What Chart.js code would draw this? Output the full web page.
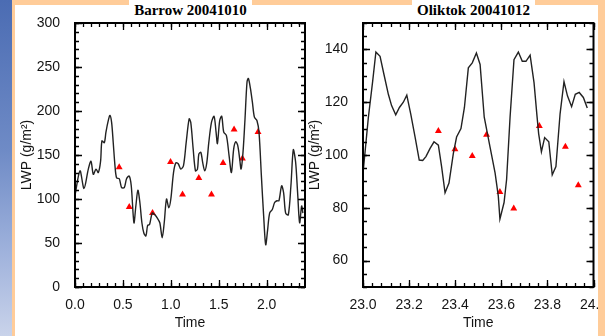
<!DOCTYPE html>
<html>
<head>
<meta charset="utf-8">
<script src="https://cdn.jsdelivr.net/npm/chart.js@4/dist/chart.umd.min.js"></script>
<style>
  html, body { margin: 0; padding: 0; }
  body { width: 605px; height: 336px; position: relative; overflow: hidden; background: #ffcc99; }
  #blue { position: absolute; left: 0; top: 0; width: 12px; height: 336px;
          background: linear-gradient(#4b6cb3, #6f8bc6 45%, #9fb2dc 75%, #c9d3ea); }
  #paper { position: absolute; left: 15px; top: 5px; width: 583px; height: 331px; background: #fff; }
  .ttl { position: absolute; top: 0; width: 123px; height: 20px; background: #fff; color: #000;
         font: bold 15px "Liberation Serif", "Times New Roman", serif; text-align: center; line-height: 21px; }
  canvas { position: absolute; top: 0; }
  #edge { position: absolute; left: 598px; top: 0; width: 7px; height: 336px; background: #ffcc99; }
</style>
</head>
<body>
<div id="blue"></div>
<div id="paper"></div>
<canvas id="barrow" width="310" height="336" style="left:0"></canvas>
<canvas id="oliktok" width="305" height="336" style="left:300px"></canvas>
<div class="ttl" style="left:129px">Barrow 20041010</div>
<div class="ttl" style="left:412px">Oliktok 20041012</div>
<div id="edge"></div>
<script>
// Barrow 20041010 - linha (modelo) e triangulos (observado)
const barrowTime = [0, 0.052, 0.094, 0.139, 0.167, 0.191, 0.219, 0.243, 0.267, 0.281, 0.306, 0.323, 0.347, 0.365,
  0.382, 0.399, 0.417, 0.434, 0.462, 0.486, 0.514, 0.538, 0.566, 0.587, 0.615, 0.635, 0.656, 0.677, 0.698, 0.719,
  0.740, 0.758, 0.778, 0.806, 0.833, 0.861, 0.885, 0.910, 0.931, 0.955, 0.979, 1.000, 1.028, 1.052, 1.077, 1.104,
  1.132, 1.160, 1.191, 1.208, 1.233, 1.257, 1.278, 1.292, 1.313, 1.333, 1.354, 1.375, 1.396, 1.424, 1.451, 1.472,
  1.486, 1.510, 1.531, 1.552, 1.580, 1.608, 1.632, 1.656, 1.677, 1.698, 1.719, 1.733, 1.753, 1.774, 1.795, 1.809,
  1.830, 1.851, 1.872, 1.899, 1.920, 1.945, 1.969, 1.990, 2.010, 2.031, 2.059, 2.083, 2.107, 2.128, 2.156, 2.177,
  2.198, 2.226, 2.253, 2.278, 2.302, 2.323, 2.344, 2.365, 2.378];
const barrowLwp = [104, 132, 112, 134, 143, 128, 134, 130, 143, 166, 164, 176, 189, 195,
  187, 164, 138, 124, 123, 113, 113, 123, 126, 115, 73, 92, 110, 96, 73, 61,
  58, 70, 71, 84, 82, 78, 73, 56, 73, 100, 90, 100, 130, 141, 140, 134,
  138, 164, 191, 187, 157, 132, 134, 151, 153, 141, 132, 141, 164, 187, 194, 176,
  163, 189, 194, 176, 172, 149, 130, 157, 165, 161, 145, 134, 153, 191, 233, 237,
  226, 210, 193, 189, 176, 126, 80, 48, 65, 84, 88, 96, 98, 98, 115, 107,
  84, 82, 115, 156, 142, 107, 73, 92, 84];
const barrowObsTime = [0.461, 0.566, 0.809, 0.997, 1.122, 1.292, 1.424, 1.545, 1.660, 1.747, 1.910];
const barrowObsLwp = [136, 91, 84, 142, 105, 124, 105, 141, 179, 146, 176];
const barrowXTicks = [0, 0.5, 1.0, 1.5, 2.0];
const barrowYTicks = [0, 50, 100, 150, 200, 250, 300];

// Oliktok 20041012
const oliktokTime = [23.000, 23.023, 23.042, 23.056, 23.074, 23.091, 23.110, 23.124, 23.142, 23.158, 23.175,
  23.190, 23.207, 23.226, 23.244, 23.259, 23.273, 23.291, 23.308, 23.327, 23.341, 23.356, 23.373, 23.392,
  23.406, 23.425, 23.440, 23.457, 23.474, 23.492, 23.508, 23.526, 23.551, 23.573, 23.587, 23.594, 23.612,
  23.623, 23.638, 23.655, 23.674, 23.691, 23.707, 23.725, 23.742, 23.754, 23.762, 23.774, 23.788, 23.806,
  23.821, 23.837, 23.855, 23.872, 23.887, 23.905, 23.921, 23.938, 23.956, 23.973];
const oliktokLwp = [93, 114, 128, 139, 137.4, 130.5, 123, 118.7, 115.2, 118, 120,
  122.7, 115.6, 106.8, 98.1, 97.9, 99.4, 102.5, 105, 103.7, 95.6, 85.7, 89.4, 100.6,
  106.8, 110, 118, 133, 134.9, 138.6, 134.3, 114.3, 103.1, 93.2, 84.4, 75.7, 82,
  90.7, 114.3, 136.1, 139, 135.5, 135.5, 137.8, 127.4, 115.6, 108.1, 101.2, 106.6, 105,
  92.5, 95.6, 115.6, 127.8, 122.4, 118.3, 123, 123.7, 121.8, 117.8];
const oliktokObsTime = [23.327, 23.399, 23.474, 23.536, 23.594, 23.654, 23.765, 23.878, 23.934];
const oliktokObsLwp = [109.1, 102.2, 99.6, 107.7, 86, 79.7, 111, 103.1, 88.5];
const oliktokXTicks = [23.0, 23.2, 23.4, 23.6, 23.8, 24.0];
const oliktokYTicks = [60, 80, 100, 120, 140];

const fonte = { family: '"Liberation Sans", Arial, sans-serif', size: 14 };
const corTexto = '#141414';

// moldura estilo IDL: caixa com ticks para dentro nos quatro lados
const idlFrame = {
  id: 'idlFrame',
  afterDraw(chart, args, o) {
    const ctx = chart.ctx;
    const a = chart.chartArea;
    const x = chart.scales.x, y = chart.scales.y;
    ctx.save();
    ctx.strokeStyle = '#000';
    ctx.lineWidth = 1.3;
    function marca(scale, step, len, horiz) {
      const n0 = Math.ceil(scale.min / step - 1e-6);
      const n1 = Math.floor(scale.max / step + 1e-6);
      for (let i = n0; i <= n1; i++) {
        const p = Math.round(scale.getPixelForValue(i * step)) + 0.5;
        ctx.beginPath();
        if (horiz) {
          ctx.moveTo(p, a.bottom); ctx.lineTo(p, a.bottom - len);
          ctx.moveTo(p, a.top); ctx.lineTo(p, a.top + len);
        } else {
          ctx.moveTo(a.left, p); ctx.lineTo(a.left + len, p);
          ctx.moveTo(a.right, p); ctx.lineTo(a.right - len, p);
        }
        ctx.stroke();
      }
    }
    marca(x, o.xMinor, 4, true);
    marca(x, o.xMajor, 7, true);
    marca(y, o.yMinor, 4, false);
    marca(y, o.yMajor, 7, false);
    ctx.lineWidth = 2;
    ctx.strokeRect(a.left, a.top, a.right - a.left, a.bottom - a.top);
    ctx.restore();
  }
};

function pontos(xs, ys) {
  return xs.map((v, i) => ({ x: v, y: ys[i] }));
}

function grafico(id, linhaX, linhaY, obsX, obsY, eixo, pad, tension) {
  return new Chart(document.getElementById(id), {
    type: 'line',
    data: {
      datasets: [{
        data: pontos(linhaX, linhaY),
        borderColor: '#222',
        borderWidth: 1.4,
        pointRadius: 0,
        tension: tension,
        fill: false
      }, {
        data: pontos(obsX, obsY),
        showLine: false,
        pointStyle: 'triangle',
        pointRadius: 4,
        pointBackgroundColor: '#ff0000',
        pointBorderColor: '#ff0000',
        pointBorderWidth: 0
      }]
    },
    options: {
      responsive: false,
      animation: false,
      layout: { padding: pad },
      plugins: {
        legend: { display: false },
        tooltip: { enabled: false },
        idlFrame: eixo.frame
      },
      scales: {
        x: {
          type: 'linear',
          min: eixo.xMin, max: eixo.xMax,
          grid: { display: false },
          border: { display: false },
          ticks: {
            autoSkip: false, maxRotation: 0, padding: 2, color: corTexto, font: fonte,
            callback: v => v.toFixed(1)
          },
          afterBuildTicks(s) { s.ticks = eixo.xTicks.map(v => ({ value: v })); },
          title: { display: true, text: 'Time', color: corTexto, font: fonte, padding: { top: 0, bottom: 4 } },
          afterFit(s) { s.height = 49; s.paddingLeft = 0; s.paddingRight = 0; }
        },
        y: {
          min: eixo.yMin, max: eixo.yMax,
          grid: { display: false },
          border: { display: false },
          ticks: { autoSkip: false, padding: 7, color: corTexto, font: fonte, callback: v => String(v) },
          afterBuildTicks(s) { s.ticks = eixo.yTicks.map(v => ({ value: v })); },
          title: { display: true, text: 'LWP (g/m²)', color: corTexto, font: fonte },
          afterFit(s) { s.width = 60; s.paddingTop = 0; s.paddingBottom = 0; }
        }
      }
    },
    plugins: [idlFrame]
  });
}

grafico('barrow', barrowTime, barrowLwp, barrowObsTime, barrowObsLwp,
  { xMin: 0, xMax: 2.4, yMin: 0, yMax: 300, xTicks: barrowXTicks, yTicks: barrowYTicks,
    frame: { xMajor: 0.5, xMinor: 0.5 / 6, yMajor: 50, yMinor: 10 } },
  { left: 15, top: 23, right: 5, bottom: 0 }, 0.3);

grafico('oliktok', oliktokTime, oliktokLwp, oliktokObsTime, oliktokObsLwp,
  { xMin: 23, xMax: 24, yMin: 50, yMax: 150, xTicks: oliktokXTicks, yTicks: oliktokYTicks,
    frame: { xMajor: 0.2, xMinor: 0.04, yMajor: 20, yMinor: 5 } },
  { left: 3, top: 23, right: 11.5, bottom: 0 }, 0);
</script>
</body>
</html>
